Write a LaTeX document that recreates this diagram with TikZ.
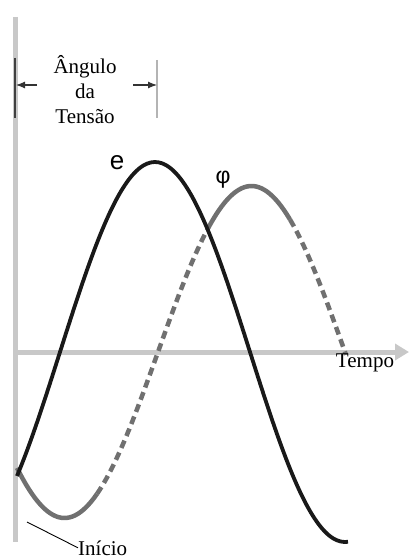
\documentclass[tikz,border=0pt]{standalone}
\usepackage{fontspec}
\setmainfont{Liberation Serif}
\newfontfamily\labelsans{Liberation Sans}
\usepackage{xcolor}
\usetikzlibrary{arrows.meta, positioning}
\definecolor{axisgray}{RGB}{200,200,200}
\definecolor{phigray}{RGB}{112,112,112}

\begin{document}
\begin{tikzpicture}[x=1pt, y=-1pt,
  axis/.style={draw=axisgray, line width=5pt},
  ecurve/.style={draw=black!90, line width=3.8pt, smooth},
  phisolid/.style={draw=phigray, line width=4.5pt, smooth},
  phidash/.style={phisolid, dash pattern=on 8pt off 5pt},
  tick/.style={line width=1.4pt},
  dimarr/.style={-{Latex[length=9pt, width=7pt]}, line width=1.1pt, draw=black!80},
  lbl/.style={font=\fontsize{21}{25}\selectfont, inner sep=0pt},
  sym/.style={font=\labelsans\fontsize{26}{26}\selectfont, inner sep=0pt}
]
\useasboundingbox (0,0) rectangle (409,559);

% axes
\coordinate (top) at (15,17);
\coordinate (bot) at (15,542);
\coordinate (orig) at (15,352);
\coordinate (tip) at (409,352);
\draw[axis] (top) -- (bot);
\draw[axis, -{Triangle[length=14pt, width=16pt]}] (orig) -- (tip);

% angle marks
\coordinate (l1) at (15,58);
\coordinate (l2) at (15,118);
\coordinate (r1) at (157,60);
\coordinate (r2) at (157,118);
\draw[tick, draw=black!75] (l1) -- (l2);
\draw[tick, draw=axisgray!90!black] (r1) -- (r2);
\node[lbl, align=center] (ang) at (85,90) {Ângulo\\da\\Tensão};
\coordinate (la) at (16,85);
\coordinate (ra) at (157,85);
\coordinate (la0) at (37,85);
\coordinate (ra0) at (133,85);
\draw[dimarr] (la0) -- (la);
\draw[dimarr] (ra0) -- (ra);

% curves
\draw[phisolid] plot[domain=17:97, samples=30] (\x, {352-166*sin((\x-158)/187*180)});
\draw[phidash]  plot[domain=97:207, samples=40] (\x, {352-166*sin((\x-158)/187*180)});
\draw[phisolid] plot[domain=207:290, samples=30] (\x, {352-166*sin((\x-158)/187*180)});
\draw[phidash]  plot[domain=290:346, samples=25] (\x, {352-166*sin((\x-158)/187*180)});
\draw[ecurve]   plot[domain=17:348, samples=90] (\x, {352-190*sin((\x-60)/190*180)});

% labels
\node[sym] (e) at (117,163) {e};
\node[sym, font=\labelsans\fontsize{23}{23}\selectfont] (phi) at (223,180) {φ};
\node[lbl] (tempo) at (365,363) {Tempo};
\node[lbl, anchor=base west] (inicio) at (78,555) {Início};
\coordinate (ini) at (27,522);
\draw[line width=0.9pt] (ini) -- (inicio.west);
\end{tikzpicture}
\end{document}
